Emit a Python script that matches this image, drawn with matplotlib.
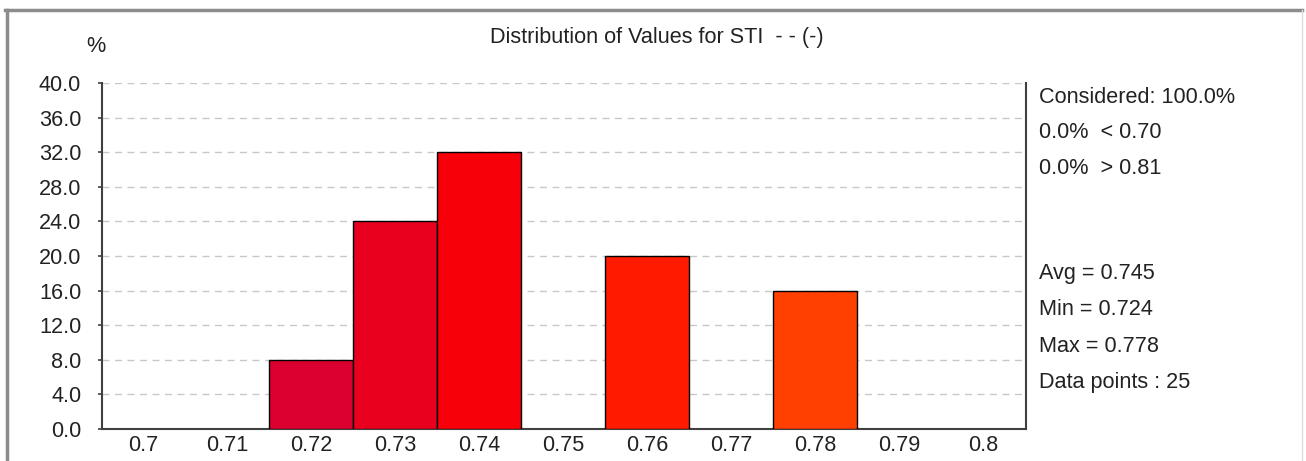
import matplotlib
matplotlib.use('Agg')
import matplotlib.pyplot as plt
from matplotlib.lines import Line2D

plt.rcParams['font.family'] = ['Liberation Sans', 'DejaVu Sans']

# Histogram data (bin centres and percentages)
bin_centers = [0.72, 0.73, 0.74, 0.76, 0.78]
percentages = [8.0, 24.0, 32.0, 20.0, 16.0]
bar_colors = ['#DB0030', '#E8001E', '#F7000A', '#FF1A00', '#FF4000']

x_ticks = [0.70, 0.71, 0.72, 0.73, 0.74, 0.75, 0.76, 0.77, 0.78, 0.79, 0.80]
x_tick_labels = ['0.7', '0.71', '0.72', '0.73', '0.74', '0.75', '0.76', '0.77', '0.78', '0.79', '0.8']
y_ticks = [0, 4, 8, 12, 16, 20, 24, 28, 32, 36, 40]

stats_top = ['Considered: 100.0%', '0.0%  < 0.70', '0.0%  > 0.81']
stats_bottom = ['Avg = 0.745', 'Min = 0.724', 'Max = 0.778', 'Data points : 25']

W, H = 1306, 461
fs = 15.6
fig = plt.figure(figsize=(W / 100, H / 100), dpi=100)
ax = fig.add_axes([102 / W, 1 - 429 / H, (1026 - 102) / W, (429 - 83) / H])

ax.bar(bin_centers, percentages, width=0.01, color=bar_colors,
       edgecolor='black', linewidth=1.0, zorder=3)

ax.set_xlim(0.69512, 0.80512)
ax.set_ylim(0, 40)
ax.set_xticks(x_ticks)
ax.set_xticklabels(x_tick_labels)
ax.set_yticks(y_ticks)
ax.set_yticklabels([f'{v:.1f}' for v in y_ticks])

ax.yaxis.grid(True, color='#C8C8C8', linestyle=(0, (5, 4)), linewidth=1.0, zorder=0)
ax.set_axisbelow(True)

for side in ['left', 'bottom', 'right']:
    ax.spines[side].set_color('#404040')
    ax.spines[side].set_linewidth(1.5)
ax.spines['top'].set_visible(False)

ax.tick_params(axis='y', length=3, width=1.2, color='#404040', pad=12,
               labelsize=fs, labelcolor='#222222')
ax.tick_params(axis='x', length=0, pad=4, labelsize=fs, labelcolor='#222222')

fig.text(657 / W, 1 - 38 / H, 'Distribution of Values for STI  - - (-)',
         ha='center', va='center', fontsize=fs, color='#222222')
fig.text(96 / W, 1 - 47 / H, '%', ha='center', va='center',
         fontsize=fs, color='#222222')

for i, s in enumerate(stats_top):
    fig.text(1039 / W, 1 - (97 + 35.5 * i) / H, s, ha='left', va='center',
             fontsize=fs, color='#222222')
for i, s in enumerate(stats_bottom):
    fig.text(1039 / W, 1 - (273 + 36.5 * i) / H, s, ha='left', va='center',
             fontsize=fs, color='#222222')

# window frame
fig.add_artist(Line2D([5 / W, 1302 / W], [1 - 10 / H, 1 - 10 / H],
                      color='#8C8C8C', linewidth=2.5, transform=fig.transFigure))
fig.add_artist(Line2D([6.5 / W, 6.5 / W], [0, 1 - 10 / H],
                      color='#8C8C8C', linewidth=2.5, transform=fig.transFigure))
fig.add_artist(Line2D([1302 / W, 1302 / W], [0, 1 - 10 / H],
                      color='#DDDDDD', linewidth=1.0, transform=fig.transFigure))

fig.savefig('out.png', dpi=100)
